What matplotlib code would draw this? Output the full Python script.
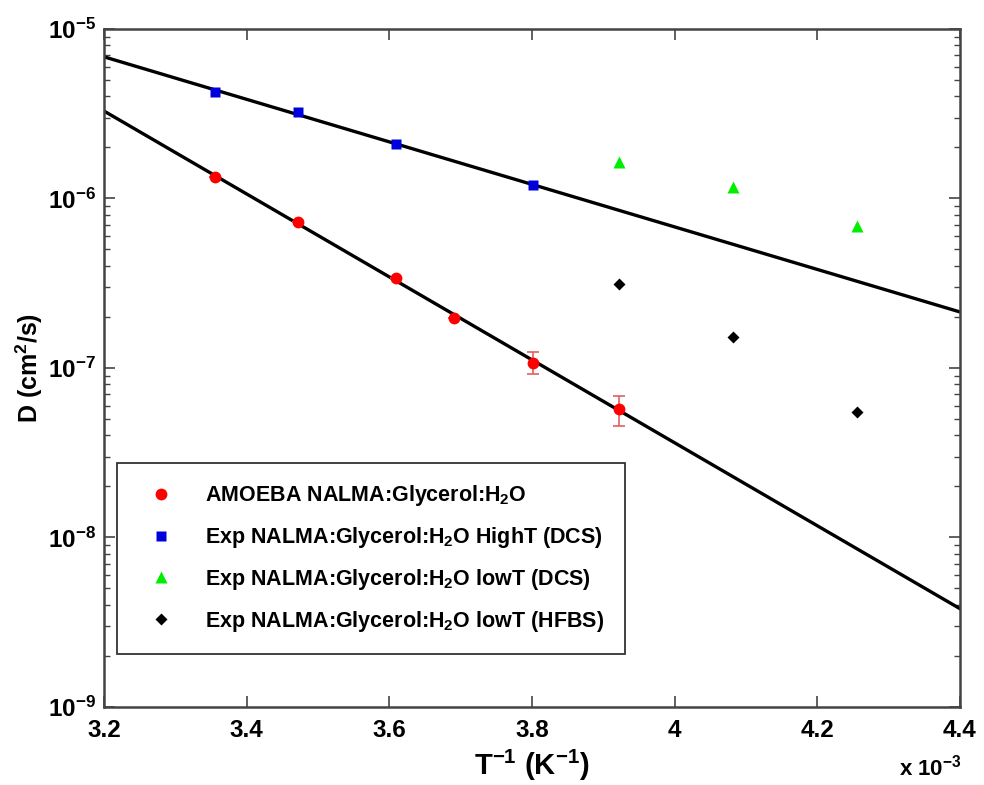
import numpy as np
import matplotlib
matplotlib.use("Agg")
import matplotlib.pyplot as plt
from matplotlib.ticker import FixedLocator, LogLocator, NullFormatter
from matplotlib.font_manager import FontProperties

plt.rcParams['font.family'] = ['Liberation Sans', 'DejaVu Sans']
plt.rcParams['font.weight'] = 'bold'
plt.rcParams['mathtext.fontset'] = 'custom'
plt.rcParams['mathtext.rm'] = 'Liberation Sans:bold'
plt.rcParams['mathtext.bf'] = 'Liberation Sans:bold'
plt.rcParams['mathtext.it'] = 'Liberation Sans:bold'
plt.rcParams['mathtext.default'] = 'bf'

# x values are 1/T in units of 1e-3 K^-1
x_amoeba = [3.356, 3.472, 3.610, 3.690, 3.802, 3.922]
d_amoeba = [1.34e-6, 7.3e-7, 3.40e-7, 1.97e-7, 1.07e-7, 5.7e-8]
err_lo = [0, 0, 0, 0, 1.5e-8, 1.15e-8]
err_hi = [0, 0, 0, 0, 1.7e-8, 1.15e-8]

x_high = [3.356, 3.472, 3.610, 3.802]
d_high = [4.27e-6, 3.24e-6, 2.10e-6, 1.20e-6]

x_low = [3.922, 4.082, 4.256]
d_low_dcs = [1.64e-6, 1.17e-6, 6.9e-7]
d_low_hfbs = [3.13e-7, 1.52e-7, 5.5e-8]

# fit lines, value at the two ends of the x range
fit_x = [3.2, 4.4]
fit_high = [6.85e-6, 2.14e-7]
fit_amoeba = [3.28e-6, 3.8e-9]

bold = dict(fontweight='bold')

fig = plt.figure(figsize=(9.84, 7.85), dpi=100)
ax = fig.add_axes([0.1057, 0.0994, 0.8699, 0.8637])

ax.plot(fit_x, fit_high, color='black', lw=2.4, zorder=2)
ax.plot(fit_x, fit_amoeba, color='black', lw=2.4, zorder=2)

ax.errorbar(x_amoeba, d_amoeba, yerr=[err_lo, err_hi], fmt='none',
            ecolor='#e06060', elinewidth=1.2, capsize=4, capthick=1.2, zorder=3)
ax.plot(x_amoeba, d_amoeba, 'o', color='#ff0000', ms=8.5, mec='none', zorder=4,
        label=r'AMOEBA NALMA:Glycerol:H$_2$O')
ax.plot(x_high, d_high, 's', color='#0000dd', ms=6.5, mec='none', zorder=4,
        label=r'Exp NALMA:Glycerol:H$_2$O HighT (DCS)')
ax.plot(x_low, d_low_dcs, '^', color='#00ee00', ms=8.5, mec='none', zorder=4,
        label=r'Exp NALMA:Glycerol:H$_2$O lowT (DCS)')
ax.plot(x_low, d_low_hfbs, 'D', color='black', ms=6.5, mec='none', zorder=4,
        label=r'Exp NALMA:Glycerol:H$_2$O lowT (HFBS)')

ax.set_yscale('log')
ax.set_xlim(3.2, 4.4)
ax.set_ylim(1e-9, 1e-5)

xt = [3.2, 3.4, 3.6, 3.8, 4.0, 4.2, 4.4]
ax.xaxis.set_major_locator(FixedLocator(xt))
ax.set_xticklabels(['3.2', '3.4', '3.6', '3.8', '4', '4.2', '4.4'], fontsize=17.5, **bold)
ax.yaxis.set_minor_locator(LogLocator(base=10, subs=np.arange(2, 10), numticks=20))
ax.yaxis.set_minor_formatter(NullFormatter())
ax.set_yticks([1e-9, 1e-8, 1e-7, 1e-6, 1e-5])
ax.set_yticklabels([r'$10^{-9}$', r'$10^{-8}$', r'$10^{-7}$', r'$10^{-6}$', r'$10^{-5}$'],
                   fontsize=17.5, **bold)

ax.tick_params(which='both', direction='in', top=True, right=True, colors='#444444',
               labelcolor='black')
ax.tick_params(axis='x', pad=9)
ax.tick_params(axis='y', pad=6)
ax.tick_params(which='major', length=8, width=1.2)
ax.tick_params(which='minor', length=4, width=1.0)
for s in ax.spines.values():
    s.set_color('#444444')
    s.set_linewidth(1.8)

ax.set_xlabel(r'T$^{-1}$ (K$^{-1}$)', fontsize=21, labelpad=4, **bold)
ax.set_ylabel(r'D (cm$^2$/s)', fontsize=18, labelpad=2, **bold)
fig.text(0.977, 0.006, r'x 10$^{-3}$', ha='right', va='bottom', fontsize=16, **bold)

leg = ax.legend(loc='lower left', bbox_to_anchor=(0.015, 0.078),
                prop=FontProperties(family='Liberation Sans', weight='bold', size=15.5),
                frameon=True, fancybox=False, framealpha=1, edgecolor='#333333',
                handlelength=2.2, handletextpad=0.95, labelspacing=0.78,
                borderpad=0.95, borderaxespad=0)
leg.get_frame().set_linewidth(1.3)

fig.savefig('out.png', dpi=100)
